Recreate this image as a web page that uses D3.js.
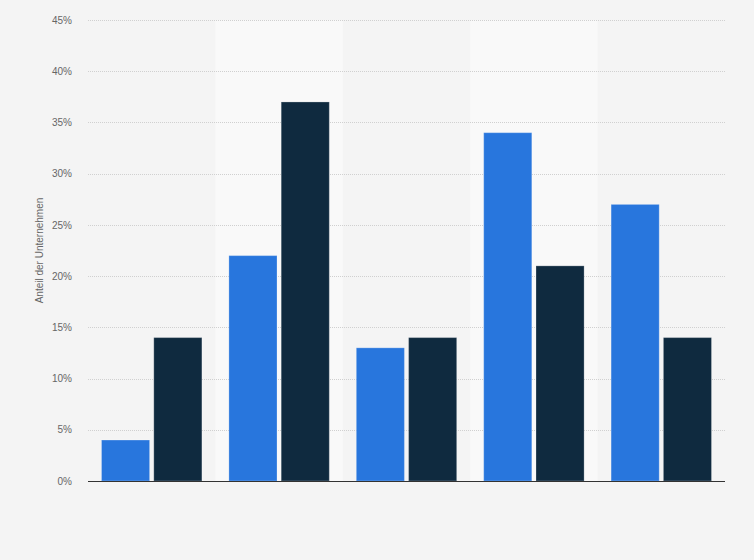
<!DOCTYPE html>
<html>
<head>
<meta charset="utf-8">
<script src="https://cdn.jsdelivr.net/npm/d3@7"></script>
<style>
    html, body { margin: 0; padding: 0; background: #f4f4f4; }
    svg { display: block; font-family: Arial, "Liberation Sans", sans-serif; }
    .axis_text { fill: #666; font-size: 10px; }
</style>
</head>
<body>
<figure id="chart" style="margin:0"></figure>
<script>
// values (no category labels shown)
var categories = ["A", "B", "C", "D", "E"];
var series1 = [4, 22, 13, 34, 27];
var series2 = [14, 37, 14, 21, 14];
var yTicks = [0, 5, 10, 15, 20, 25, 30, 35, 40, 45];

let dimensions = {
    width: 754,
    height: 560,
    margin: { top: 20, right: 29, bottom: 79, left: 88 },
};
dimensions.boundedWidth = dimensions.width - dimensions.margin.left - dimensions.margin.right;
dimensions.boundedHeight = dimensions.height - dimensions.margin.top - dimensions.margin.bottom;

var svg = d3.select("figure#chart")
    .append("svg")
    .attr("width", dimensions.width)
    .attr("height", dimensions.height);

svg.append("rect")
    .attr("width", dimensions.width)
    .attr("height", dimensions.height)
    .attr("fill", "#f4f4f4");

var g = svg.append("g")
    .attr("transform", `translate(${dimensions.margin.left},${dimensions.margin.top})`);

var xScale = d3.scaleBand()
    .domain(categories)
    .range([0, dimensions.boundedWidth])
    .paddingInner(0)
    .paddingOuter(0);

var xInner = d3.scaleBand()
    .domain([0, 1])
    .range([13.5, xScale.bandwidth() - 13.5])
    .paddingInner(0.08);

var yScale = d3.scaleLinear()
    .domain([0, 45])
    .range([dimensions.boundedHeight, 0]);

// alternating column bands
g.selectAll("rect.band")
    .data(categories.filter((d, i) => i % 2 === 1))
    .enter()
    .append("rect")
    .attr("class", "band")
    .attr("x", d => xScale(d))
    .attr("y", 0)
    .attr("width", xScale.bandwidth())
    .attr("height", dimensions.boundedHeight)
    .attr("fill", "#f9f9f9");

// grid
g.selectAll("line.grid")
    .data(yTicks.filter(d => d > 0))
    .enter()
    .append("line")
    .attr("class", "grid")
    .attr("x1", 0)
    .attr("x2", dimensions.boundedWidth)
    .attr("y1", d => Math.round(yScale(d)) + 0.5)
    .attr("y2", d => Math.round(yScale(d)) + 0.5)
    .attr("stroke", "#d0d0d0")
    .attr("stroke-dasharray", "1,1");

var data = categories.map((c, i) => ({ cat: c, values: [series1[i], series2[i]] }));
var colors = ["#2876dd", "#0f2a3f"];

var groups = g.selectAll("g.cat")
    .data(data)
    .enter()
    .append("g")
    .attr("class", "cat")
    .attr("transform", d => `translate(${xScale(d.cat)},0)`);

groups.selectAll("rect")
    .data(d => d.values)
    .enter()
    .append("rect")
    .attr("x", (d, i) => xInner(i))
    .attr("y", d => yScale(d))
    .attr("width", xInner.bandwidth())
    .attr("height", d => dimensions.boundedHeight - yScale(d))
    .attr("fill", (d, i) => colors[i])
    .attr("stroke", "#ffffff")
    .attr("stroke-opacity", 0.25)
    .attr("stroke-width", 1);

// y axis labels
var yAxis = g.append("g")
    .attr("class", "y axis")
    .call(d3.axisLeft(yScale).tickValues(yTicks).tickFormat(d => d + "%").tickSize(0).tickPadding(16));
yAxis.select(".domain").remove();
yAxis.selectAll("text")
    .attr("class", "axis_text")
    .attr("font-family", null)
    .attr("font-size", null);

// baseline
g.append("line")
    .attr("x1", 0)
    .attr("x2", dimensions.boundedWidth)
    .attr("y1", dimensions.boundedHeight + 0.5)
    .attr("y2", dimensions.boundedHeight + 0.5)
    .attr("stroke", "#333")
    .attr("stroke-width", 1);

// axis title
svg.append("text")
    .attr("transform", `translate(43,${dimensions.margin.top + dimensions.boundedHeight / 2}) rotate(-90)`)
    .attr("text-anchor", "middle")
    .attr("class", "axis_text")
    .text("Anteil der Unternehmen");
</script>
</body>
</html>
